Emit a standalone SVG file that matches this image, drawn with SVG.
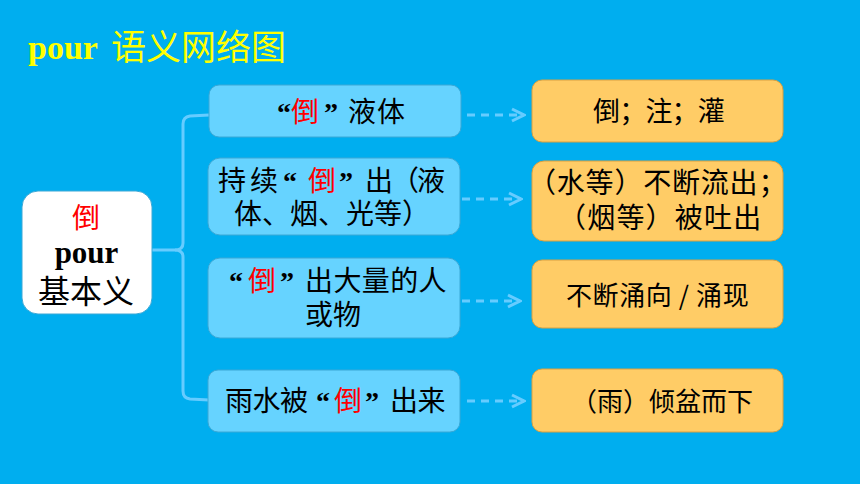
<svg xmlns="http://www.w3.org/2000/svg" width="860" height="484" viewBox="0 0 860 484">
<style>
.cjk{font-family:"Noto Sans CJK SC","Noto Sans",sans-serif;fill:#000}
.lat{font-family:"Liberation Serif",serif;font-weight:bold}
.q{font-family:"Liberation Serif",serif;font-weight:bold;font-size:28px;fill:#000}
.red{fill:#FF0000}
.lb{fill:#66D3FF;stroke:#3AA8D6;stroke-width:1}
.ob{fill:#FFCC66;stroke:#D9A040;stroke-width:1}
.con{fill:none;stroke:#66CCFF;stroke-width:3}
.dash{fill:none;stroke:#66CCFF;stroke-width:3;stroke-dasharray:8 6}
.t28{font-size:28px}
</style>
<defs>
<marker id="chev" markerUnits="userSpaceOnUse" markerWidth="16" markerHeight="16" viewBox="0 0 16 16" refX="14" refY="8" orient="auto">
<path d="M2,2 L14,8 L2,14" fill="none" stroke="#66CCFF" stroke-width="3"/>
</marker>
</defs>
<rect x="0" y="0" width="860" height="484" fill="#00AEEF"/>
<g id="title">
<text x="28" y="59" class="lat" font-size="34" fill="#FFFF00">pour</text>
<text x="111" y="60" class="cjk" font-size="35" style="fill:#FFFF00">语义网络图</text>
</g>
<g id="connectors">
<path class="con" d="M209,115 L190,116 Q183,117 183,124 V243 Q183,250 175,250 H152"/>
<path class="con" d="M209,400 L190,399 Q183,398 183,391 V257 Q183,250 175,250"/>
<line class="dash" x1="467" y1="115" x2="524" y2="115" marker-end="url(#chev)"/>
<line class="dash" x1="462" y1="199" x2="521" y2="199" marker-end="url(#chev)"/>
<line class="dash" x1="462" y1="301" x2="520" y2="301" marker-end="url(#chev)"/>
<line class="dash" x1="467" y1="401" x2="524" y2="401" marker-end="url(#chev)"/>
</g>
<g id="root">
<rect x="22" y="191" width="130" height="123" rx="16" fill="#FFFFFF" stroke="#3AA8D6" stroke-width="1"/>
<text x="86" y="228" class="cjk red" font-size="28" text-anchor="middle">倒</text>
<text x="86.5" y="263" class="lat" font-size="31" text-anchor="middle" fill="#000">pour</text>
<text x="86" y="303" class="cjk" font-size="32" text-anchor="middle">基本义</text>
</g>
<g id="n1">
<rect class="lb" x="209" y="85" width="252" height="52" rx="10"/>
<text y="122" class="cjk t28"><tspan x="277" class="q">“</tspan><tspan x="291" class="red">倒</tspan><tspan x="324" class="q">”</tspan><tspan x="348" letter-spacing="1">液体</tspan></text>
</g>
<g id="n2">
<rect class="lb" x="208" y="158" width="252" height="77" rx="12"/>
<text y="191" class="cjk t28"><tspan x="218" letter-spacing="4">持续</tspan><tspan x="283" class="q">“</tspan><tspan x="308" class="red">倒</tspan><tspan x="339" class="q">”</tspan><tspan x="365" letter-spacing="-2">出（液</tspan></text>
<text x="234" y="224" class="cjk t28">体、烟、光等）</text>
</g>
<g id="n3">
<rect class="lb" x="208" y="258" width="252" height="80" rx="12"/>
<text y="291" class="cjk t28"><tspan x="229" class="q">“</tspan><tspan x="248" class="red">倒</tspan><tspan x="280" class="q">”</tspan><tspan x="305" letter-spacing="0.4">出大量的人</tspan></text>
<text x="305" y="325" class="cjk t28">或物</text>
</g>
<g id="n4">
<rect class="lb" x="208" y="370" width="252" height="62" rx="10"/>
<text y="411" class="cjk t28"><tspan x="225" letter-spacing="-0.5">雨水被</tspan><tspan x="316" class="q">“</tspan><tspan x="334" class="red">倒</tspan><tspan x="365" class="q">”</tspan><tspan x="390" letter-spacing="-0.5">出来</tspan></text>
</g>
<g id="o1">
<rect class="ob" x="532" y="80" width="251" height="62" rx="10"/>
<text x="593" y="121" class="cjk" font-size="27" letter-spacing="-0.8">倒；注；灌</text>
</g>
<g id="o2">
<rect class="ob" x="532" y="161" width="251" height="80" rx="12"/>
<text x="528" y="193" class="cjk t28" letter-spacing="0.8">（水等）不断流出；</text>
<text x="558" y="228" class="cjk t28" letter-spacing="1.2">（烟等）被吐出</text>
</g>
<g id="o3">
<rect class="ob" x="532" y="260" width="251" height="68" rx="10"/>
<text x="566" y="305" class="cjk" font-size="26" letter-spacing="0.6" xml:space="preserve">不断涌向 / 涌现</text>
</g>
<g id="o4">
<rect class="ob" x="532" y="369" width="251" height="63" rx="10"/>
<text x="571" y="411" class="cjk" font-size="26">（雨）倾盆而下</text>
</g>
</svg>
